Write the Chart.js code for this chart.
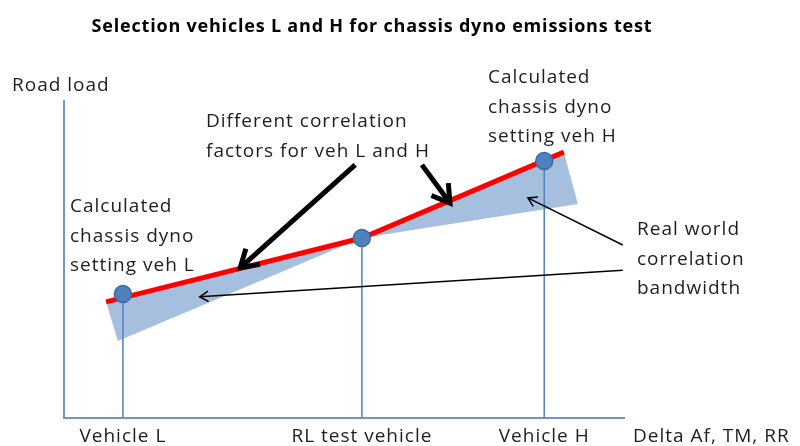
<!DOCTYPE html>
<html>
<head>
<meta charset="utf-8">
<script src="https://cdn.jsdelivr.net/npm/chart.js@4"></script>
<style>
  html, body { margin: 0; padding: 0; background: #fff; }
  #wrap { width: 800px; height: 446px; position: relative; }
</style>
</head>
<body>
<div id="wrap"><canvas id="c"></canvas></div>
<script>
const TITLE = 'Selection vehicles L and H for chassis dyno emissions test';
const Y_TITLE = 'Road load';
const X_TITLE = 'Delta Af, TM, RR';

// vehicles along the x axis (arbitrary 0-100 units) and their road load
const vehicleLabels = ['Vehicle L', 'RL test vehicle', 'Vehicle H'];
const vehicleX      = [10.5, 53.1, 85.6];
const vehicleY      = [39.0, 56.6, 80.8];

// calculated dyno setting line (red)
const settingX = [7.5, 53.1, 89.1];
const settingY = [36.5, 56.6, 83.6];

// real world correlation bandwidth (two wedges)
const bandLowX  = [7.5, 9.6, 53.1];
const bandLowY  = [36.5, 24.2, 56.6];
const bandHighX = [53.1, 89.1, 91.6];
const bandHighY = [56.6, 83.6, 67.3];

// arrows: [fromX, fromY, toX, toY]
const bigArrows  = [[51.9, 79.6, 31.4, 47.2], [63.8, 79.6, 68.8, 67.6]];
const thinArrows = [[99.6, 46.5, 24.2, 38.1], [99.6, 54.4, 82.7, 69.2]];

const notes = [
    { x: 488, y: 78,  lines: ['Calculated', 'chassis dyno', 'setting veh H'] },
    { x: 206, y: 122, lines: ['Different correlation', 'factors for veh L and H'] },
    { x: 70,  y: 207, lines: ['Calculated', 'chassis dyno', 'setting veh L'] },
    { x: 637, y: 230, lines: ['Real world', 'correlation', 'bandwidth'] }
];

const axisColor = '#6f95c9';
const blue      = '#4f81bd';
const bandColor = '#a7bfde';
const textColor = '#1e1e1e';
const font      = '"Open Sans", sans-serif';

const pts = (xs, ys) => xs.map((x, i) => ({ x, y: ys[i] }));

const dropLines = vehicleX.map((x, i) => ({
    data: [{ x, y: 0 }, { x, y: vehicleY[i] }],
    showLine: true, borderColor: blue, borderWidth: 1.5, pointRadius: 0, order: 2
}));

function arrow(ctx, x1, y1, x2, y2, len, width) {
    const a = Math.atan2(y2 - y1, x2 - x1);
    ctx.lineWidth = width;
    ctx.beginPath();
    ctx.moveTo(x1, y1);
    ctx.lineTo(x2, y2);
    ctx.stroke();
    ctx.beginPath();
    ctx.moveTo(x2 - len * Math.cos(a - 0.55), y2 - len * Math.sin(a - 0.55));
    ctx.lineTo(x2, y2);
    ctx.lineTo(x2 - len * Math.cos(a + 0.55), y2 - len * Math.sin(a + 0.55));
    ctx.stroke();
}

const decor = {
    id: 'decor',
    beforeDatasetsDraw(chart) {
        const { ctx, chartArea: ca } = chart;
        ctx.save();
        ctx.strokeStyle = axisColor;
        ctx.lineWidth = 2;
        ctx.beginPath();
        ctx.moveTo(ca.left, ca.top);
        ctx.lineTo(ca.left, ca.bottom);
        ctx.lineTo(ca.right, ca.bottom);
        ctx.stroke();
        ctx.restore();
    },
    afterDatasetsDraw(chart) {
        const { ctx, chartArea: ca, scales: { x, y } } = chart;
        ctx.save();
        ctx.strokeStyle = '#000';
        ctx.lineCap = 'butt';
        ctx.lineJoin = 'miter';
        bigArrows.forEach(a => arrow(ctx, x.getPixelForValue(a[0]), y.getPixelForValue(a[1]),
            x.getPixelForValue(a[2]), y.getPixelForValue(a[3]), 20, 5));
        thinArrows.forEach(a => arrow(ctx, x.getPixelForValue(a[0]), y.getPixelForValue(a[1]),
            x.getPixelForValue(a[2]), y.getPixelForValue(a[3]), 10, 1.5));

        ctx.fillStyle = '#000';
        ctx.font = 'bold 18px ' + font;
        ctx.letterSpacing = '0.8px';
        ctx.textAlign = 'center';
        ctx.textBaseline = 'middle';
        ctx.fillText(TITLE, 372, 27);

        ctx.fillStyle = textColor;
        ctx.font = '19px ' + font;
        ctx.letterSpacing = '1px';
        ctx.textAlign = 'left';
        ctx.fillText(Y_TITLE, 12, 86);
        notes.forEach(n => n.lines.forEach((l, i) => ctx.fillText(l, n.x, n.y + i * 29.5)));

        ctx.textAlign = 'center';
        vehicleLabels.forEach((l, i) => ctx.fillText(l, x.getPixelForValue(vehicleX[i]), ca.bottom + 19));
        ctx.textAlign = 'left';
        ctx.fillText(X_TITLE, 633, ca.bottom + 19);
        ctx.restore();
    }
};

new Chart(document.getElementById('c'), {
    type: 'scatter',
    data: {
        datasets: [
            { data: pts(vehicleX, vehicleY), pointRadius: 8.5, pointBackgroundColor: blue,
              pointBorderColor: '#3d6aa2', pointBorderWidth: 1.5, order: 0 },
            { data: pts(settingX, settingY), showLine: true, borderColor: '#ff0000',
              borderWidth: 5, pointRadius: 0, order: 1 },
            ...dropLines,
            { data: pts(bandLowX, bandLowY), showLine: true, fill: 'shape', backgroundColor: bandColor,
              borderWidth: 0, borderColor: bandColor, pointRadius: 0, order: 3 },
            { data: pts(bandHighX, bandHighY), showLine: true, fill: 'shape', backgroundColor: bandColor,
              borderWidth: 0, borderColor: bandColor, pointRadius: 0, order: 3 }
        ]
    },
    options: {
        responsive: true,
        maintainAspectRatio: false,
        animation: false,
        layout: { padding: { left: 64, right: 175, top: 100, bottom: 28 } },
        plugins: { legend: { display: false }, tooltip: { enabled: false } },
        scales: {
            x: { display: false, min: 0, max: 100 },
            y: { display: false, min: 0, max: 100 }
        }
    },
    plugins: [decor]
});
</script>
</body>
</html>
